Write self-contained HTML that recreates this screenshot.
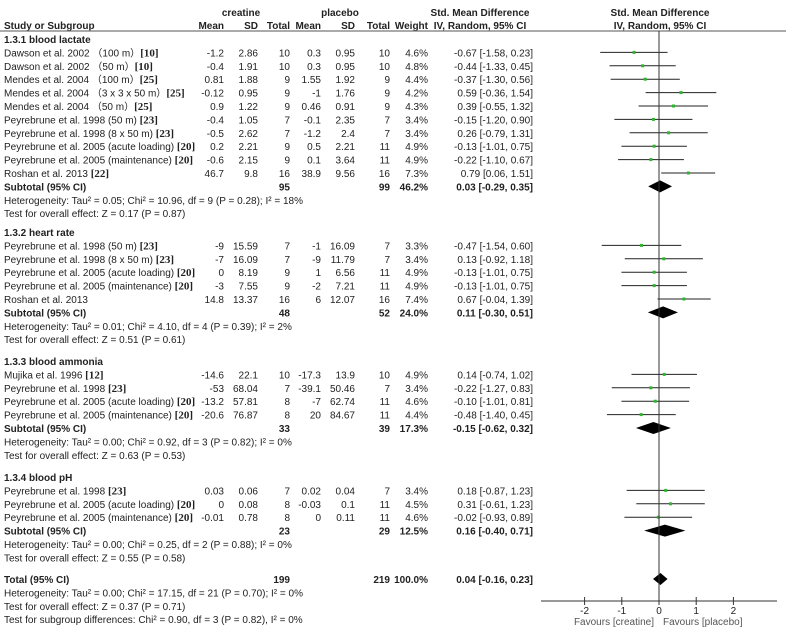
<!DOCTYPE html>
<html><head><meta charset="utf-8"><style>
body{margin:0;background:#fff}
svg{display:block;font-family:"Liberation Sans",Arial,sans-serif;font-size:10px;fill:#222}
.b{font-weight:bold}
</style></head><body>
<svg id="c" width="798" height="640"></svg>
<script>
// data
const studies=[
["Dawson et al. 2002 （100 m）","[10]","-1.2","2.86","10","0.3","0.95","10","4.6%",-0.67,-1.58,0.23,"lac"],
["Dawson et al. 2002 （50 m）","[10]","-0.4","1.91","10","0.3","0.95","10","4.8%",-0.44,-1.33,0.45,"lac"],
["Mendes et al. 2004 （100 m）","[25]","0.81","1.88","9","1.55","1.92","9","4.4%",-0.37,-1.30,0.56,"lac"],
["Mendes et al. 2004 （3 x 3 x 50 m）","[25]","-0.12","0.95","9","-1","1.76","9","4.2%",0.59,-0.36,1.54,"lac"],
["Mendes et al. 2004 （50 m）","[25]","0.9","1.22","9","0.46","0.91","9","4.3%",0.39,-0.55,1.32,"lac"],
["Peyrebrune et al. 1998 (50 m) ","[23]","-0.4","1.05","7","-0.1","2.35","7","3.4%",-0.15,-1.20,0.90,"lac"],
["Peyrebrune et al. 1998 (8 x 50 m) ","[23]","-0.5","2.62","7","-1.2","2.4","7","3.4%",0.26,-0.79,1.31,"lac"],
["Peyrebrune  et al. 2005 (acute loading) ","[20]","0.2","2.21","9","0.5","2.21","11","4.9%",-0.13,-1.01,0.75,"lac"],
["Peyrebrune et al. 2005 (maintenance) ","[20]","-0.6","2.15","9","0.1","3.64","11","4.9%",-0.22,-1.10,0.67,"lac"],
["Roshan et al. 2013 ","[22]","46.7","9.8","16","38.9","9.56","16","7.3%",0.79,0.06,1.51,"lac"],
["Peyrebrune et al. 1998 (50 m) ","[23]","-9","15.59","7","-1","16.09","7","3.3%",-0.47,-1.54,0.60,"hr"],
["Peyrebrune et al. 1998 (8 x 50 m) ","[23]","-7","16.09","7","-9","11.79","7","3.4%",0.13,-0.92,1.18,"hr"],
["Peyrebrune  et al. 2005 (acute loading) ","[20]","0","8.19","9","1","6.56","11","4.9%",-0.13,-1.01,0.75,"hr"],
["Peyrebrune et al. 2005 (maintenance) ","[20]","-3","7.55","9","-2","7.21","11","4.9%",-0.13,-1.01,0.75,"hr"],
["Roshan et al. 2013","","14.8","13.37","16","6","12.07","16","7.4%",0.67,-0.04,1.39,"hr"],
["Mujika et al. 1996 ","[12]","-14.6","22.1","10","-17.3","13.9","10","4.9%",0.14,-0.74,1.02,"am"],
["Peyrebrune et al. 1998 ","[23]","-53","68.04","7","-39.1","50.46","7","3.4%",-0.22,-1.27,0.83,"am"],
["Peyrebrune  et al. 2005 (acute loading) ","[20]","-13.2","57.81","8","-7","62.74","11","4.6%",-0.10,-1.01,0.81,"am"],
["Peyrebrune et al. 2005 (maintenance) ","[20]","-20.6","76.87","8","20","84.67","11","4.4%",-0.48,-1.40,0.45,"am"],
["Peyrebrune et al. 1998 ","[23]","0.03","0.06","7","0.02","0.04","7","3.4%",0.18,-0.87,1.23,"ph"],
["Peyrebrune  et al. 2005 (acute loading) ","[20]","0","0.08","8","-0.03","0.1","11","4.5%",0.31,-0.61,1.23,"ph"],
["Peyrebrune et al. 2005 (maintenance) ","[20]","-0.01","0.78","8","0","0.11","11","4.6%",-0.02,-0.93,0.89,"ph"]
];
const groups=[
["1.3.1 blood lactate","95","99","46.2%",0.03,-0.29,0.35,"Heterogeneity: Tau² = 0.05; Chi² = 10.96, df = 9 (P = 0.28); I² = 18%","Test for overall effect: Z = 0.17 (P = 0.87)","lac"],
["1.3.2 heart rate","48","52","24.0%",0.11,-0.30,0.51,"Heterogeneity: Tau² = 0.01; Chi² = 4.10, df = 4 (P = 0.39); I² = 2%","Test for overall effect: Z = 0.51 (P = 0.61)","hr"],
["1.3.3 blood ammonia","33","39","17.3%",-0.15,-0.62,0.32,"Heterogeneity: Tau² = 0.00; Chi² = 0.92, df = 3 (P = 0.82); I² = 0%","Test for overall effect: Z = 0.63 (P = 0.53)","am"],
["1.3.4 blood pH","23","29","12.5%",0.16,-0.40,0.71,"Heterogeneity: Tau² = 0.00; Chi² = 0.25, df = 2 (P = 0.88); I² = 0%","Test for overall effect: Z = 0.55 (P = 0.58)","ph"]
];
const total=["199","219","100.0%",0.04,-0.16,0.23];
const totalNotes=["Heterogeneity: Tau² = 0.00; Chi² = 17.15, df = 21 (P = 0.70); I² = 0%","Test for overall effect: Z = 0.37 (P = 0.71)","Test for subgroup differences: Chi² = 0.90, df = 3 (P = 0.82), I² = 0%"];
const ticks=[-2,-1,0,1,2];

const svg=document.getElementById('c');const NS='http://www.w3.org/2000/svg';
function el(t,a,txt){const e=document.createElementNS(NS,t);for(const k in a)e.setAttribute(k,a[k]);if(txt!=null)e.textContent=txt;svg.appendChild(e);return e;}
function X(v){return 659+v*37.2;}
function T(x,y,s,anchor,cls,name){const e=el('text',{x:x,y:y,'text-anchor':anchor||'start',class:cls||''},s);return e;}
T(241,16,'creatine','middle','b','creatine-header');
T(340,16,'placebo','middle','b','placebo-header');
T(480,16,'Std. Mean Difference','middle','b','smd-header');
T(660,16,'Std. Mean Difference','middle','b','smd-plot-header');
T(4,29,'Study or Subgroup','start','b','study-header');
[['Mean',224],['SD',258],['Total',290],['Mean',321],['SD',355],['Total',390],['Weight',428]].forEach(h=>T(h[1],29,h[0],'end','b','column-header'));
T(480,29,'IV, Random, 95% CI','middle','b','ci-header');
T(660,29,'IV, Random, 95% CI','middle','b','ci-plot-header');
let hl=el('line',{x1:0,y1:31,x2:786,y2:31,stroke:'#777','stroke-width':1.3});
const fmt=v=>v.toFixed(2);
function ciStr(e,l,u){return fmt(e)+' ['+fmt(l)+', '+fmt(u)+']';}
function diamond(y,e,l,u,name){const p=el('polygon',{points:`${X(l)},${y} ${X(e)},${y-6} ${X(u)},${y} ${X(e)},${y+6}`,fill:'#000'});}
const groupY=[39,232,361,477];
const sp=13.4;
groups.forEach((g,gi)=>{
  let y=groupY[gi];
  T(4,y+4,g[0],'start','b','subgroup-title');
  const rows=studies.filter(s=>s[12]===g[9]);
  rows.forEach(s=>{
    y+=sp;const b=y+4;
    const t=T(4,b,s[0],'start','','study-name');
    const ts=document.createElementNS(NS,'tspan');ts.setAttribute('font-weight','bold');ts.setAttribute('font-family','"Liberation Serif",serif');ts.setAttribute('font-size','11');ts.textContent=s[1];t.appendChild(ts);
    [[2,224],[3,258],[4,290],[5,321],[6,355],[7,390],[8,428]].forEach(c=>T(c[1],b,s[c[0]],'end','','cell'));
    T(533,b,ciStr(s[9],s[10],s[11]),'end','','study-ci');
    const ln=el('line',{x1:X(s[10]),y1:y,x2:X(s[11]),y2:y,stroke:'#222','stroke-width':1});
    const sq=el('rect',{x:X(s[9])-1.5,y:y-1.5,width:3,height:3,fill:'#2db52d'});
  });
  y+=sp;
  T(4,y+4,'Subtotal (95% CI)','start','b','subtotal-label');
  T(290,y+4,g[1],'end','b','subtotal-n');T(390,y+4,g[2],'end','b','subtotal-n');T(428,y+4,g[3],'end','b','subtotal-weight');
  T(533,y+4,ciStr(g[4],g[5],g[6]),'end','b','subtotal-ci');
  diamond(y,g[4],g[5],g[6],'subtotal-diamond');
  y+=sp;T(4,y+4,g[7],'start','','heterogeneity');
  y+=sp;T(4,y+4,g[8],'start','','overall-effect');
});
let y=579;
T(4,y+4,'Total (95% CI)','start','b','total-label');
T(290,y+4,total[0],'end','b','total-n');T(390,y+4,total[1],'end','b','total-n');T(428,y+4,total[2],'end','b','total-weight');
T(533,y+4,ciStr(total[3],total[4],total[5]),'end','b','total-ci');
diamond(y,total[3],total[4],total[5],'total-diamond');
totalNotes.forEach((n,i)=>T(4,y+4+(i+1)*sp,n,'start','','total-note'));
let v=el('line',{x1:X(0),y1:31,x2:X(0),y2:601,stroke:'#333','stroke-width':1});
let ax=el('line',{x1:541,y1:601,x2:777,y2:601,stroke:'#333','stroke-width':1});
ticks.forEach(t=>{const tk=el('line',{x1:X(t),y1:597,x2:X(t),y2:605,stroke:'#333'});T(X(t),614,String(t),'middle','','x-tick-label');});
T(654,625,'Favours [creatine]','end','','favours-creatine').setAttribute('fill','#555');
T(663,625,'Favours [placebo]','start','','favours-placebo').setAttribute('fill','#555');
</script>
</body></html>
